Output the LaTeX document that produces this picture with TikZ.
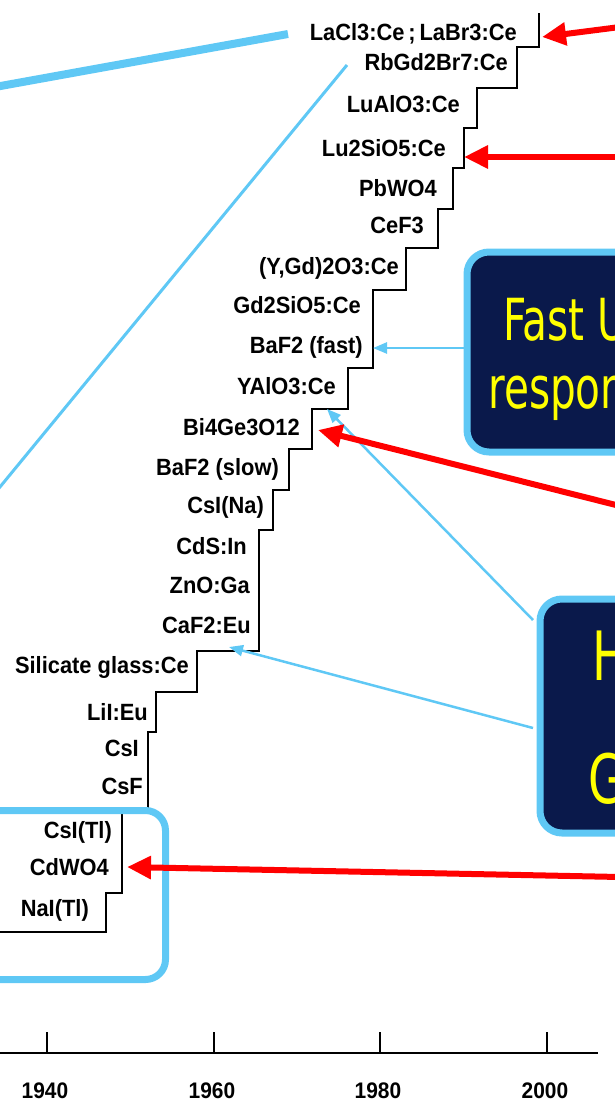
\documentclass[tikz,border=0pt]{standalone}
\usepackage{fontspec}
\setmainfont{Liberation Sans}
\newfontfamily\lblfont[FakeStretch=0.93]{Liberation Sans}
\newfontfamily\boxfont[FakeStretch=0.7]{DejaVu Sans}
\usetikzlibrary{arrows.meta}
\definecolor{skyb}{RGB}{95,200,245}
\definecolor{navyb}{RGB}{10,25,75}
\definecolor{yel}{RGB}{255,255,0}
\definecolor{redc}{RGB}{255,0,0}
\begin{document}
\begin{tikzpicture}[x=1pt,y=-1pt,
  lbl/.style={anchor=base east, inner sep=0pt, font=\lblfont\fontsize{23.5}{25}\selectfont\bfseries},
  yr/.style={anchor=base, inner sep=0pt, font=\lblfont\fontsize{22.5}{24}\selectfont\bfseries},
  stair/.style={line width=2.4pt, black, line join=miter},
  navbox/.style={draw=skyb, line width=7pt, fill=navyb, rounded corners=22pt, inner sep=0pt},
  outbox/.style={draw=skyb, line width=7pt, rounded corners=20pt, inner sep=0pt},
  boxtxt/.style={anchor=base west, inner sep=0pt, text=yel},
  bluearr/.style={draw=skyb, line width=2.5pt, -{Triangle[length=14pt,width=11pt]}},
  redarr/.style={draw=redc, line width=6pt, -{Triangle[length=24pt,width=22pt]}},
  bluelink/.style={draw=skyb},
]
\useasboundingbox (0,0) rectangle (615,1109);
\clip (0,0) rectangle (615,1109);

% decorative blue lines from the left
\coordinate (thickA) at (-5,87);
\coordinate (thickB) at (288,34);
\draw[bluelink, line width=8pt] (thickA) -- (thickB);
\coordinate (thinA) at (347,65);
\coordinate (thinB) at (-5,493);
\draw[bluelink, line width=3pt] (thinA) -- (thinB);

% staircase
\draw[stair] (-5,932) -- (106,932) -- (106,893) -- (122,893) -- (122,813) -- (148,813)
  -- (148,732) -- (156,732) -- (156,692) -- (197,692) -- (197,651) -- (259,651)
  -- (259,530) -- (273,530) -- (273,490) -- (289,490) -- (289,449) -- (312,449)
  -- (312,409) -- (348,409) -- (348,368) -- (373,368) -- (373,290) -- (406,290)
  -- (406,248) -- (438,248) -- (438,209) -- (453,209) -- (453,168) -- (464,168)
  -- (464,128) -- (477,128) -- (477,88) -- (517,88) -- (517,47) -- (539,47) -- (539,13);

% labels
\node[lbl] (laCl) at (517,40) {LaCl3:Ce\,;\,LaBr3:Ce};
\node[lbl] (rbGd) at (508,70.5) {RbGd2Br7:Ce};
\node[lbl] (luAl) at (460,112.5) {LuAlO3:Ce};
\node[lbl] (luSi) at (446,156.5) {Lu2SiO5:Ce};
\node[lbl] (pbW) at (437,196.5) {PbWO4};
\node[lbl] (ceF) at (424,233.5) {CeF3};
\node[lbl] (yGd) at (399,274.5) {(Y,Gd)2O3:Ce};
\node[lbl] (gdSi) at (361,313.5) {Gd2SiO5:Ce};
\node[lbl] (baFf) at (363,353.5) {BaF2 (fast)};
\node[lbl] (yAl) at (336,394.5) {YAlO3:Ce};
\node[lbl] (bgo) at (300,435.5) {Bi4Ge3O12};
\node[lbl] (baFs) at (279,475.5) {BaF2 (slow)};
\node[lbl] (csNa) at (264,513.5) {CsI(Na)};
\node[lbl] (cdS) at (247,554.5) {CdS:In};
\node[lbl] (znO) at (250,593.5) {ZnO:Ga};
\node[lbl] (caF) at (251,633.5) {CaF2:Eu};
\node[lbl] (sil) at (189,673) {Silicate glass:Ce};
\node[lbl] (liI) at (148,720) {LiI:Eu};
\node[lbl] (csI) at (139,756) {CsI};
\node[lbl] (csF) at (143,794.5) {CsF};
\node[lbl] (csTl) at (112,838.5) {CsI(Tl)};
\node[lbl] (cdW) at (109,875.5) {CdWO4};
\node[lbl] (naI) at (89,916.5) {NaI(Tl)};

% time axis
\coordinate (axL) at (-5,1053);
\coordinate (axR) at (598,1053);
\draw[line width=2pt] (axL) -- (axR);
\foreach \xx/\yy/\nm in {47/1940/ya,214/1960/yb,380/1980/yc,547/2000/yd}{
  \draw[line width=2pt] (\xx,1053) -- (\xx,1032);
  \node[yr] (\nm) at (\xx-2,1098) {\yy};
}

% bottom-left highlight box
\node[outbox, anchor=north east, minimum width=220pt, minimum height=169pt] (oldbox) at (169,807) {};

% right-hand boxes
\node[navbox, anchor=north west, minimum width=260pt, minimum height=200pt] (fastbox) at (463.5,248.5) {};
\node[boxtxt, font=\boxfont\fontsize{58}{60}\selectfont] (fastA) at (503,340) {Fast U};
\node[boxtxt, font=\boxfont\fontsize{58}{60}\selectfont] (fastB) at (488,408) {respon};

\node[navbox, anchor=north west, minimum width=260pt, minimum height=234pt] (hbox) at (536.5,595.5) {};
\node[boxtxt, font=\boxfont\fontsize{68}{70}\selectfont] (hA) at (592,680) {H};
\node[boxtxt, font=\boxfont\fontsize{68}{70}\selectfont] (hB) at (588,803) {G};

% blue pointers
\coordinate (tipFast) at (373,348);
\draw[bluearr] (fastbox.west |- tipFast) -- (tipFast);
\coordinate (hOut1) at (533,620);
\coordinate (tipYAl) at (327,409);
\draw[bluearr] (hOut1) -- (tipYAl);
\coordinate (hOut2) at (533,728);
\coordinate (tipCaF) at (229,647);
\draw[bluearr] (hOut2) -- (tipCaF);

% red pointers
\coordinate (r1) at (620,27);
\coordinate (tipLa) at (542,37);
\draw[redarr] (r1) -- (tipLa);
\coordinate (r2) at (620,157);
\coordinate (tipLu) at (464,157);
\draw[redarr] (r2) -- (tipLu);
\coordinate (r3) at (620,506);
\coordinate (tipBgo) at (318,430);
\draw[redarr] (r3) -- (tipBgo);
\coordinate (r4) at (620,877);
\coordinate (tipCd) at (127,867);
\draw[redarr] (r4) -- (tipCd);
\end{tikzpicture}
\end{document}
